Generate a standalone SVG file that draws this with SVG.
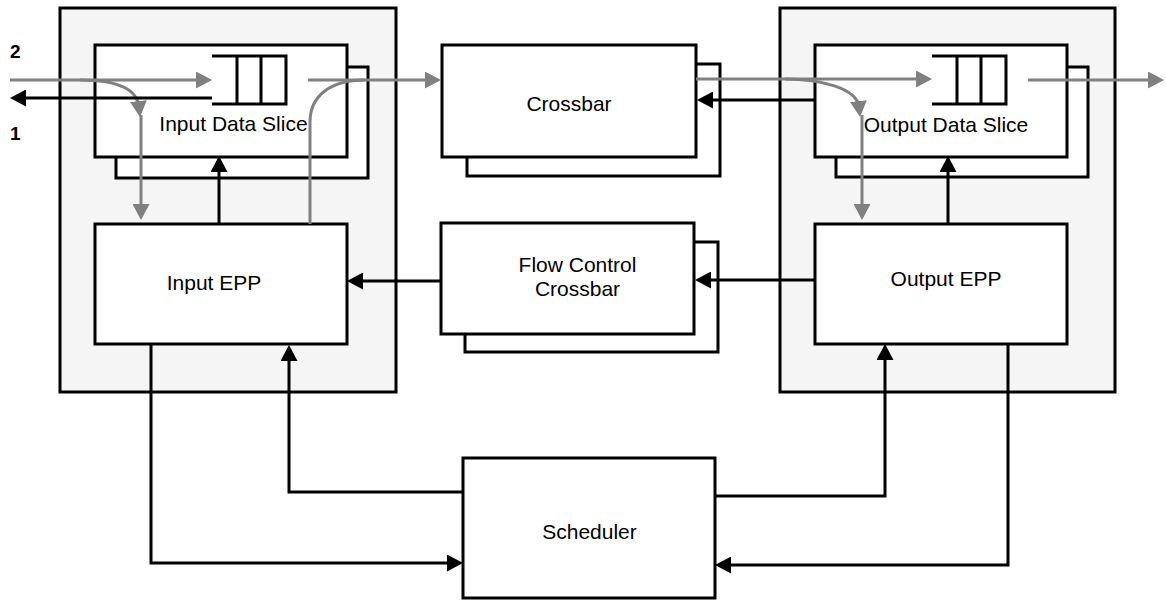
<svg xmlns="http://www.w3.org/2000/svg" width="1166" height="601" viewBox="0 0 1166 601">
<style>
.panel{fill:#f5f5f5;stroke:#000;stroke-width:3}
.box{fill:#fff;stroke:#000;stroke-width:3}
.q{fill:none;stroke:#000;stroke-width:3}
.lbl{font-family:"Liberation Sans",Arial,sans-serif;font-size:21px;fill:#000;text-anchor:middle}
.num{font-family:"Liberation Sans",Arial,sans-serif;font-size:19px;font-weight:bold;fill:#000}
.blk{fill:none;stroke:#000;stroke-width:3}
.gry{fill:none;stroke:#808080;stroke-width:3}
</style>
<defs>
<marker id="ab" markerUnits="userSpaceOnUse" markerWidth="17" markerHeight="17" viewBox="0 0 17 17" refX="6" refY="8.5" orient="auto"><path d="M0,0 L16,8.5 L0,17 z" fill="#000"/></marker>
<marker id="ag" markerUnits="userSpaceOnUse" markerWidth="17" markerHeight="17" viewBox="0 0 17 17" refX="6" refY="8.5" orient="auto"><path d="M0,0 L16,8.5 L0,17 z" fill="#808080"/></marker>
</defs>
<rect class="panel" x="60" y="8" width="336" height="384"/>
<rect class="panel" x="780" y="8" width="335" height="384"/>
<g id="input-data-slice">
<rect class="box" x="116" y="67" width="252" height="111"/>
<rect class="box" x="95" y="45" width="252" height="112"/>
<path class="q" d="M212,56 H286 V104 H212 M237,56 V104 M261,56 V104"/>
<text class="lbl" x="233.5" y="131">Input Data Slice</text>
</g>
<g id="crossbar">
<rect class="box" x="467" y="64" width="253" height="112"/>
<rect class="box" x="442" y="45" width="254" height="112"/>
<text class="lbl" x="569" y="111">Crossbar</text>
</g>
<g id="output-data-slice">
<rect class="box" x="836" y="67" width="252" height="110"/>
<rect class="box" x="815" y="45" width="252" height="112"/>
<path class="q" d="M932,56 H1006 V104 H932 M957,56 V104 M981,56 V104"/>
<text class="lbl" x="946" y="132">Output Data Slice</text>
</g>
<g id="input-epp">
<rect class="box" x="95" y="224" width="252" height="120"/>
<text class="lbl" x="214" y="290">Input EPP</text>
</g>
<g id="flow-control-crossbar">
<rect class="box" x="465" y="242" width="253" height="110"/>
<rect class="box" x="441" y="223" width="253" height="111"/>
<text class="lbl" x="577.5" y="272">Flow Control</text>
<text class="lbl" x="577.5" y="296">Crossbar</text>
</g>
<g id="output-epp">
<rect class="box" x="815" y="224" width="252" height="120"/>
<text class="lbl" x="946" y="286">Output EPP</text>
</g>
<g id="scheduler">
<rect class="box" x="463" y="458" width="252" height="140"/>
<text class="lbl" x="589.5" y="539">Scheduler</text>
</g>
<g id="labels">
<text class="num" x="10" y="58">2</text>
<text class="num" x="10" y="140">1</text>
</g>
<g id="connectors">
<path class="gry" d="M10,80 H202" marker-end="url(#ag)"/>
<path class="gry" d="M80,80 C115,80 137,88 139,107" marker-end="url(#ag)"/>
<path class="gry" d="M141,115 V210" marker-end="url(#ag)"/>
<path class="gry" d="M308,80 H431" marker-end="url(#ag)"/>
<path class="gry" d="M310,224 V122 C310,96 330,80 365,80"/>
<path class="gry" d="M696,79 H922" marker-end="url(#ag)"/>
<path class="gry" d="M785,79 C820,79 857,88 859,107" marker-end="url(#ag)"/>
<path class="gry" d="M862,115 V210" marker-end="url(#ag)"/>
<path class="gry" d="M1028,80 H1154" marker-end="url(#ag)"/>
<path class="blk" d="M212,98 H20" marker-end="url(#ab)"/>
<path class="blk" d="M219,224 V166" marker-end="url(#ab)"/>
<path class="blk" d="M948,224 V166" marker-end="url(#ab)"/>
<path class="blk" d="M815,100 H707" marker-end="url(#ab)"/>
<path class="blk" d="M441,281 H357" marker-end="url(#ab)"/>
<path class="blk" d="M815,280 H705" marker-end="url(#ab)"/>
<path class="blk" d="M463,492 H289 V355" marker-end="url(#ab)"/>
<path class="blk" d="M151,344 V563 H453" marker-end="url(#ab)"/>
<path class="blk" d="M715,496 H885 V354" marker-end="url(#ab)"/>
<path class="blk" d="M1008,344 V565 H725" marker-end="url(#ab)"/>
</g>
</svg>
